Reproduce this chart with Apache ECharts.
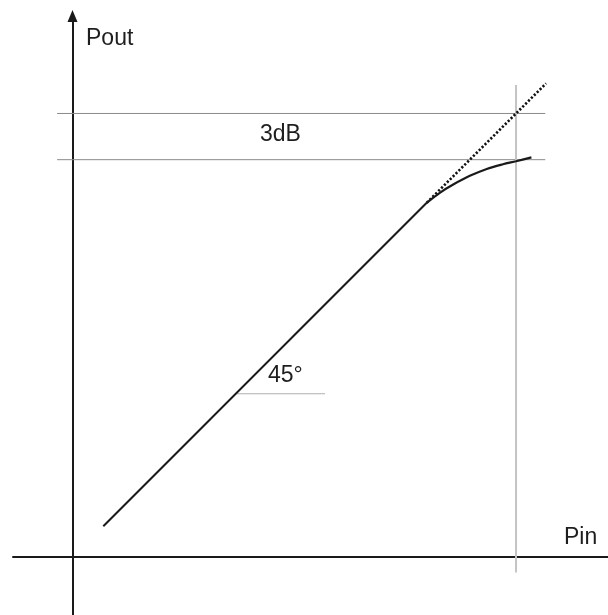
<!DOCTYPE html>
<html>
<head>
<meta charset="utf-8">
<title>Pout vs Pin – 3dB compression</title>
<script src="https://cdn.jsdelivr.net/npm/echarts@6/dist/echarts.min.js"></script>
<style>
  html, body { margin: 0; padding: 0; background: #fff; }
  #chart { width: 608px; height: 615px; }
</style>
</head>
<body>
<div id="chart"></div>
<script>
// Linear (small-signal) region, gain slope 1 dB/dB
const linearPin  = [2, 23];
const linearPout = [2, 23];

// Compression region beyond the knee
const curvePin  = [23, 23.85, 24.75, 25.8, 26.9, 27.95, 28.8, 29.8];
const curvePout = [23, 23.65, 24.2, 24.75, 25.2, 25.5, 25.7, 25.95];

// Ideal (uncompressed) extension of the linear response
const idealPin  = [23, 30.75];
const idealPout = [23, 30.75];

// 3dB compression point: ideal vs actual output at the same input
const p3dBIn = 28.8;
const p3dBIdealOut = 28.8;
const p3dBOut = 25.8;

// Reference line extents
const hLineSpan = [-1, 30.7];
const vLineSpan = [-1, 30.65];

// 45° slope marker (horizontal base starting on the linear line)
const slopeMarkPin  = [10.6, 16.4];
const slopeMarkPout = 10.6;

const labels = { yName: 'Pout', xName: 'Pin', compression: '3dB', slope: '45°' };

// ---- layout ----
const W = 608, H = 615;
const gridLeft = 13, gridTop = 16;
const originX = 72.5, originY = 557;   // where the axes cross
const unit = 15.4;                      // px per dB on both axes (keeps 45°)

const xMin = (gridLeft - originX) / unit;
const xMax = (W - originX) / unit;
const yMax = (originY - gridTop) / unit;
const yMin = -(H - originY) / unit;

const zip = (a, b) => a.map((v, i) => [v, b[i]]);

const font = '"Liberation Sans", Arial, sans-serif';
const textColor = '#1e1e1e';

const chart = echarts.init(document.getElementById('chart'), null, { renderer: 'canvas' });

const plainLine = (data, color, width, z, extra) => Object.assign({
  type: 'line', data: data, showSymbol: false, symbol: 'none', silent: true,
  lineStyle: { color: color, width: width }, z: z, animation: false
}, extra || {});

chart.setOption({
  animation: false,
  grid: { left: gridLeft, right: 0, top: gridTop, bottom: 0, containLabel: false },
  xAxis: {
    type: 'value', min: xMin, max: xMax,
    axisLine: { onZero: true, lineStyle: { color: '#1a1a1a', width: 2 } },
    axisTick: { show: false }, axisLabel: { show: false }, splitLine: { show: false }
  },
  yAxis: {
    type: 'value', min: yMin, max: yMax,
    axisLine: {
      onZero: true, symbol: ['none', 'triangle'], symbolSize: [10, 12],
      lineStyle: { color: '#1a1a1a', width: 2 }
    },
    axisTick: { show: false }, axisLabel: { show: false }, splitLine: { show: false }
  },
  series: [
    // ideal output level at the 3dB input
    plainLine([[hLineSpan[0], p3dBIdealOut], [hLineSpan[1], p3dBIdealOut]], '#8a8a8a', 1, 1),
    // actual (compressed) output level
    plainLine([[hLineSpan[0], p3dBOut], [hLineSpan[1], p3dBOut]], '#8a8a8a', 1, 1),
    // input level of the 3dB compression point
    plainLine([[p3dBIn, vLineSpan[0]], [p3dBIn, vLineSpan[1]]], '#c4c4c4', 2, 1),
    // 45° slope marker base
    plainLine([[slopeMarkPin[0], slopeMarkPout], [slopeMarkPin[1], slopeMarkPout]], '#b0b0b0', 1, 1),
    // ideal extension (dotted)
    plainLine(zip(idealPin, idealPout), '#1a1a1a', 2.5, 2,
      { lineStyle: { color: '#111', width: 2.6, type: [2.2, 1.9] } }),
    // linear region
    plainLine(zip(linearPin, linearPout), '#1a1a1a', 2, 3),
    // compression region
    plainLine(zip(curvePin, curvePout), '#1a1a1a', 2.2, 3, { smooth: 0.3 })
  ],
  graphic: [
    { type: 'text', left: 86, top: 27, silent: true,
      style: { text: labels.yName, font: '23px ' + font, fill: textColor } },
    { type: 'text', left: 564, top: 526, silent: true,
      style: { text: labels.xName, font: '23px ' + font, fill: textColor } },
    { type: 'text', left: 260, top: 123, silent: true,
      style: { text: labels.compression, font: '23px ' + font, fill: textColor } },
    { type: 'text', left: 268, top: 364, silent: true,
      style: { text: labels.slope, font: '23px ' + font, fill: textColor } }
  ]
});
</script>
</body>
</html>
